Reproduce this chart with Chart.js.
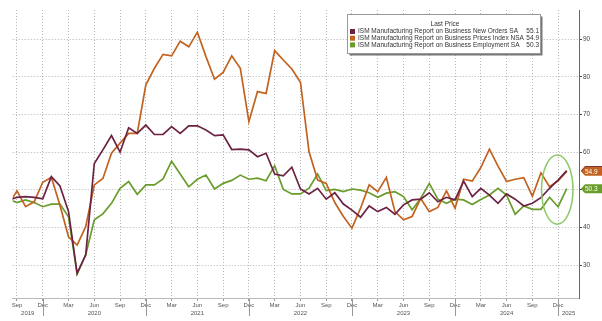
<!DOCTYPE html>
<html lang="en">
<head>
<meta charset="UTF-8">
<title>ISM Manufacturing</title>
<script src="https://cdn.jsdelivr.net/npm/chart.js@4"></script>
<style>
    body { margin: 0; background: #fff; }
    .wrap { width: 602px; height: 321px; position: relative; }
</style>
</head>
<body>
<div class="wrap"><canvas id="chart"></canvas></div>
<script>
// monthly readings, Aug 2019 .. Jan 2025
var newOrders = [47.2, 48.0, 48.2, 48.0, 47.6,
    53.5, 51.0, 44.2, 27.8, 32.7, 57.0, 60.6, 64.4, 60.0, 66.5, 65.0, 67.2,
    64.7, 64.7, 66.8, 65.0, 67.0, 67.0, 65.9, 64.4, 64.6, 60.7, 60.8, 60.6,
    58.8, 59.7, 54.2, 53.7, 56.0, 50.2, 48.9, 50.4, 47.5, 49.2, 46.2, 44.6,
    42.7, 45.7, 44.2, 45.3, 43.5, 46.0, 47.3, 47.5, 49.2, 46.8, 48.0, 47.3,
    52.3, 48.2, 50.4, 48.6, 46.4, 48.9, 47.5, 45.7, 46.4, 47.9, 50.4, 52.6,
    55.1];
var prices = [46.0, 49.7, 45.5, 46.8, 52.0,
    53.3, 45.9, 37.5, 35.3, 40.2, 51.3, 53.0, 59.7, 62.4, 65.0, 65.0, 77.9,
    82.3, 86.0, 85.6, 89.5, 88.0, 91.9, 85.4, 79.4, 81.2, 85.6, 82.3, 68.1,
    76.1, 75.6, 87.0, 84.5, 82.1, 78.6, 60.1, 52.6, 51.7, 46.6, 42.9, 39.8,
    45.1, 51.3, 49.5, 53.3, 44.2, 42.0, 42.9, 47.7, 44.2, 45.3, 49.7, 45.1,
    52.8, 52.3, 55.9, 60.8, 56.3, 52.2, 52.8, 53.2, 48.3, 54.5, 50.8, 52.4,
    54.9];
var employment = [47.5, 46.6, 47.3, 46.6, 45.5,
    46.2, 46.2, 42.8, 27.6, 32.7, 42.0, 43.6, 46.4, 50.4, 52.2, 48.8, 51.3,
    51.3, 52.9, 57.6, 54.2, 50.8, 52.8, 53.9, 50.2, 51.7, 52.5, 53.9, 52.8,
    53.1, 52.4, 56.4, 50.1, 48.9, 48.9, 50.4, 54.2, 49.8, 50.1, 49.5, 50.2,
    49.9, 49.2, 48.0, 49.1, 49.5, 48.2, 44.7, 47.7, 51.7, 47.5, 46.4, 47.5,
    47.3, 46.1, 47.4, 48.6, 50.4, 48.6, 43.5, 45.7, 44.8, 44.8, 48.0, 45.5,
    50.3];

var seriesNames = [
    'ISM Manufacturing Report on Business New Orders SA',
    'ISM Manufacturing Report on Business Prices Index NSA',
    'ISM Manufacturing Report on Business Employment SA'
];
var seriesColors = ['#6b2243', '#c2621f', '#6a9c2c'];
var yearLabels = ['2019', '2020', '2021', '2022', '2023', '2024', '2025'];
var yTicks = [30, 40, 50, 60, 70, 80, 90];

var monthNames = ['Jan', 'Feb', 'Mar', 'Apr', 'May', 'Jun', 'Jul', 'Aug', 'Sep', 'Oct', 'Nov', 'Dec'];
var firstMonth = 7; // August
var months = [];
for (var i = 0; i < newOrders.length; i++) {
    months.push(monthNames[(firstMonth + i) % 12]);
}
// quarter ticks: Mar, Jun, Sep, Dec
var quarterTicks = [];
var yearBreaks = [];
months.forEach(function(m, i) {
    var k = monthNames.indexOf(m);
    if (k % 3 === 2) quarterTicks.push(i);
    if (k === 11) yearBreaks.push(i);
});

var xMin = 0.5, xMax = 66.43;
var font = 'Liberation Sans';

function pts(arr) {
    return arr.map(function(v, i) { return { x: i, y: v }; });
}

// year row, separators, value tags, legend box, ellipse
var extras = {
    id: 'extras',
    afterDatasetsDraw: function(chart) {
        var ctx = chart.ctx, xs = chart.scales.x, ys = chart.scales.y;
        var last = months.length - 1;
        // highlight ellipse round the latest readings
        ctx.save();
        var cx = xs.getPixelForValue(last - 1.1), cy = ys.getPixelForValue(50.05);
        var rx = xs.getPixelForValue(last - 1.1 + 1.83) - cx;
        var ry = cy - ys.getPixelForValue(50.05 + 9.2);
        ctx.beginPath();
        ctx.ellipse(cx, cy, rx, ry, 0, 0, Math.PI * 2);
        ctx.strokeStyle = '#8cc866';
        ctx.lineWidth = 1.5;
        ctx.stroke();
        ctx.restore();
    },
    afterDraw: function(chart) {
        var ctx = chart.ctx, xs = chart.scales.x, ys = chart.scales.y;
        var area = chart.chartArea;
        ctx.save();
        // year separators and labels
        ctx.strokeStyle = '#999';
        ctx.lineWidth = 1;
        var bounds = [xMin].concat(yearBreaks).concat([xMax]);
        yearBreaks.forEach(function(b) {
            var px = Math.round(xs.getPixelForValue(b)) + 0.5;
            ctx.beginPath();
            ctx.moveTo(px, area.bottom + 1);
            ctx.lineTo(px, area.bottom + 18);
            ctx.stroke();
        });
        ctx.fillStyle = '#555';
        ctx.font = '6px "' + font + '"';
        ctx.textAlign = 'center';
        ctx.textBaseline = 'middle';
        yearLabels.forEach(function(t, i) {
            var mid = (bounds[i] + bounds[i + 1]) / 2;
            ctx.fillText(t, xs.getPixelForValue(mid), area.bottom + 15);
        });

        // last value tags on the right axis
        var order = [0, 2, 1];
        var series = [newOrders, prices, employment];
        order.forEach(function(k) {
            var v = series[k][series[k].length - 1];
            var py = ys.getPixelForValue(v);
            var x0 = area.right + 2;
            ctx.beginPath();
            ctx.moveTo(x0, py);
            ctx.lineTo(x0 + 4, py - 4.5);
            ctx.lineTo(602, py - 4.5);
            ctx.lineTo(602, py + 4.5);
            ctx.lineTo(x0 + 4, py + 4.5);
            ctx.closePath();
            ctx.fillStyle = seriesColors[k];
            ctx.fill();
            ctx.fillStyle = '#fff';
            ctx.font = '6.5px "' + font + '"';
            ctx.textAlign = 'left';
            ctx.fillText(v.toFixed(1), x0 + 4, py + 0.5);
        });

        // legend box
        var bx = 347.5, by = 14.5, bw = 193, bh = 39;
        ctx.fillStyle = '#777';
        ctx.fillRect(bx + 2, by + 2, bw, bh);
        ctx.fillStyle = '#fff';
        ctx.fillRect(bx, by, bw, bh);
        ctx.strokeStyle = '#999';
        ctx.strokeRect(bx, by, bw, bh);
        ctx.fillStyle = '#333';
        ctx.font = '6.5px "' + font + '"';
        ctx.textAlign = 'center';
        ctx.fillText('Last Price', bx + bw / 2 + 1, 24);
        seriesNames.forEach(function(name, k) {
            var ry = 31.5 + k * 6.7;
            var v = series[k][series[k].length - 1];
            ctx.fillStyle = seriesColors[k];
            ctx.fillRect(350, ry - 2.5, 5, 5);
            ctx.fillStyle = '#333';
            ctx.textAlign = 'left';
            ctx.fillText(name, 358, ry);
            ctx.textAlign = 'right';
            ctx.fillText(v.toFixed(1), 539, ry);
        });
        ctx.restore();
    }
};

var ctx = document.getElementById('chart').getContext('2d');
var chart = new Chart(ctx, {
    type: 'line',
    data: {
        datasets: [
            { label: seriesNames[0], data: pts(newOrders), borderColor: seriesColors[0] },
            { label: seriesNames[1], data: pts(prices), borderColor: seriesColors[1] },
            { label: seriesNames[2], data: pts(employment), borderColor: seriesColors[2] }
        ]
    },
    options: {
        responsive: true,
        maintainAspectRatio: false,
        animation: false,
        layout: { padding: { left: 12.7, top: 10, right: 0, bottom: 0 } },
        elements: {
            point: { radius: 0 },
            line: { borderWidth: 1.7, tension: 0, fill: false }
        },
        datasets: { line: { clip: 0 } },
        plugins: {
            legend: { display: false },
            tooltip: { enabled: false }
        },
        scales: {
            x: {
                type: 'linear',
                min: xMin,
                max: xMax,
                afterBuildTicks: function(s) {
                    s.ticks = quarterTicks.map(function(v) { return { value: v }; });
                },
                afterFit: function(s) { s.height = 23; },
                grid: { color: '#b4b4b4', tickColor: '#999', tickLength: 3 },
                border: { display: true, color: '#bbb', dash: [1, 2] },
                ticks: {
                    autoSkip: false,
                    maxRotation: 0,
                    padding: 1,
                    color: '#555',
                    font: { family: font, size: 6 },
                    callback: function(v) { return months[v]; }
                }
            },
            y: {
                position: 'right',
                min: 21.23,
                max: 97.79,
                afterBuildTicks: function(s) {
                    s.ticks = yTicks.map(function(v) { return { value: v }; });
                },
                afterFit: function(s) { s.width = 23; },
                grid: { color: '#b4b4b4', tickColor: '#444', tickLength: 3 },
                border: { display: true, color: '#666', dash: [1, 2] },
                ticks: {
                    padding: 1,
                    color: '#444',
                    font: { family: font, size: 6.5 }
                }
            }
        }
    },
    plugins: [extras]
});
</script>
</body>
</html>
